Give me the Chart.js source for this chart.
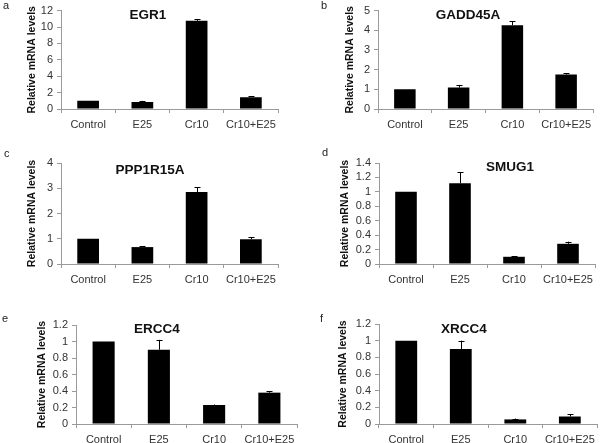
<!DOCTYPE html>
<html lang="en">
<head>
    <meta charset="UTF-8">
    <title>Relative mRNA levels</title>
    <script src="https://cdn.jsdelivr.net/npm/chart.js"></script>
    <style>
        body { margin: 0; background: #fff; font-family: "Liberation Sans", Arial, sans-serif; }
        #page { position: relative; width: 600px; height: 443px; overflow: hidden; }
        .panel { position: absolute; width: 300px; }
        .letter { position: absolute; font-size: 11px; color: #222; }
        .gene { position: absolute; font-size: 13.5px; font-weight: bold; color: #111; transform: translate(-50%, -50%); white-space: nowrap; }
    </style>
</head>
<body>
<div id="page">
    <div class="panel" style="left:0;top:0;height:148px"><canvas id="chartA"></canvas></div>
    <div class="panel" style="left:300px;top:0;height:148px"><canvas id="chartB"></canvas></div>
    <div class="panel" style="left:0;top:148px;height:148px"><canvas id="chartC"></canvas></div>
    <div class="panel" style="left:300px;top:148px;height:148px"><canvas id="chartD"></canvas></div>
    <div class="panel" style="left:0;top:296px;height:147px"><canvas id="chartE"></canvas></div>
    <div class="panel" style="left:300px;top:296px;height:147px"><canvas id="chartF"></canvas></div>

    <div class="letter" style="left:3px;top:-1px">a</div>
    <div class="letter" style="left:321px;top:-1px">b</div>
    <div class="letter" style="left:4px;top:147px">c</div>
    <div class="letter" style="left:322px;top:146px">d</div>
    <div class="letter" style="left:2px;top:312px">e</div>
    <div class="letter" style="left:320px;top:312px">f</div>

    <div class="gene" style="left:148px;top:14px">EGR1</div>
    <div class="gene" style="left:468px;top:14px">GADD45A</div>
    <div class="gene" style="left:150px;top:169px">PPP1R15A</div>
    <div class="gene" style="left:510px;top:166px">SMUG1</div>
    <div class="gene" style="left:157px;top:328px">ERCC4</div>
    <div class="gene" style="left:464px;top:328px">XRCC4</div>
</div>

<script>
    const categories = ['Control', 'E25', 'Cr10', 'Cr10+E25'];

    const egr1 = [1.0, 0.84, 10.75, 1.44];
    const egr1Err = [0, 0.15, 0.2, 0.15];
    const gadd45a = [1.0, 1.09, 4.26, 1.75];
    const gadd45aErr = [0, 0.13, 0.2, 0.07];
    const ppp1r15a = [1.0, 0.67, 2.85, 0.98];
    const ppp1r15aErr = [0, 0.03, 0.19, 0.07];
    const smug1 = [1.0, 1.12, 0.1, 0.28];
    const smug1Err = [0, 0.15, 0.006, 0.03];
    const ercc4 = [1.0, 0.9, 0.23, 0.38];
    const ercc4Err = [0, 0.12, 0.006, 0.02];
    const xrcc4 = [1.0, 0.9, 0.055, 0.09];
    const xrcc4Err = [0, 0.1, 0.01, 0.025];

    const yMax = [12, 5, 4, 1.4, 1.2, 1.2];
    const yStep = [2, 1, 1, 0.2, 0.2, 0.2];

    const axisGray = '#9a9a9a';
    const tickColor = '#333';

    // draws the upper half of each error bar with a small cap
    const errorBars = {
        id: 'errorBars',
        afterDatasetsDraw(chart) {
            const errs = chart.options.plugins.errorBars.errors;
            const meta = chart.getDatasetMeta(0);
            const yScale = chart.scales.y;
            const vals = chart.data.datasets[0].data;
            const ctx = chart.ctx;
            ctx.save();
            ctx.strokeStyle = '#000';
            ctx.lineWidth = 1;
            meta.data.forEach((bar, i) => {
                if (!errs[i]) return;
                const yTop = yScale.getPixelForValue(vals[i] + errs[i]);
                const x = Math.round(bar.x) + 0.5;
                ctx.beginPath();
                ctx.moveTo(x, bar.y);
                ctx.lineTo(x, yTop);
                ctx.moveTo(x - 3, Math.round(yTop) + 0.5);
                ctx.lineTo(x + 3, Math.round(yTop) + 0.5);
                ctx.stroke();
            });
            ctx.restore();
        }
    };

    function makeChart(id, values, errs, max, step, box) {
        const ctx = document.getElementById(id).getContext('2d');
        return new Chart(ctx, {
            type: 'bar',
            data: {
                labels: categories,
                datasets: [{
                    data: values,
                    backgroundColor: '#000',
                    borderWidth: 0,
                    categoryPercentage: 1,
                    barPercentage: 0.4
                }]
            },
            plugins: [errorBars],
            options: {
                responsive: true,
                maintainAspectRatio: false,
                animation: false,
                layout: { padding: { left: 0, top: box.top, right: box.right, bottom: box.bottom } },
                plugins: {
                    legend: { display: false },
                    tooltip: { enabled: false },
                    errorBars: { errors: errs }
                },
                scales: {
                    x: {
                        grid: { offset: true, drawOnChartArea: false, tickLength: 4, color: axisGray },
                        border: { color: axisGray },
                        ticks: { color: tickColor, padding: 5, maxRotation: 0, autoSkip: false,
                                 font: { family: 'Liberation Sans', size: 11 } },
                        afterFit(scale) { scale.height = 19; }
                    },
                    y: {
                        min: 0,
                        max: max,
                        grid: { drawOnChartArea: false, tickLength: 4, color: axisGray },
                        border: { color: axisGray },
                        ticks: {
                            stepSize: step,
                            autoSkip: false,
                            color: tickColor,
                            padding: 4,
                            font: { family: 'Liberation Sans', size: 11 },
                            callback: v => String(Number(v.toFixed(1)))
                        },
                        title: {
                            display: true,
                            text: 'Relative mRNA levels',
                            color: '#111',
                            padding: { top: box.titleOffset, bottom: 0 },
                            font: { family: 'Liberation Sans', size: 10.5, weight: 'bold' }
                        },
                        afterFit(scale) { scale.width = box.axisWidth; }
                    }
                }
            }
        });
    }

    makeChart('chartA', egr1, egr1Err, yMax[0], yStep[0], { axisWidth: 61, top: 9, right: 22, bottom: 20, titleOffset: 26 });
    makeChart('chartB', gadd45a, gadd45aErr, yMax[1], yStep[1], { axisWidth: 78, top: 9, right: 7, bottom: 20, titleOffset: 44 });
    makeChart('chartC', ppp1r15a, ppp1r15aErr, yMax[2], yStep[2], { axisWidth: 61, top: 15, right: 22, bottom: 13, titleOffset: 26 });
    makeChart('chartD', smug1, smug1Err, yMax[3], yStep[3], { axisWidth: 79, top: 15, right: 5, bottom: 13, titleOffset: 39 });
    makeChart('chartE', ercc4, ercc4Err, yMax[4], yStep[4], { axisWidth: 76, top: 29, right: 3, bottom: 0, titleOffset: 36 });
    makeChart('chartF', xrcc4, xrcc4Err, yMax[5], yStep[5], { axisWidth: 79, top: 28, right: 2, bottom: 0, titleOffset: 37 });
</script>
</body>
</html>
